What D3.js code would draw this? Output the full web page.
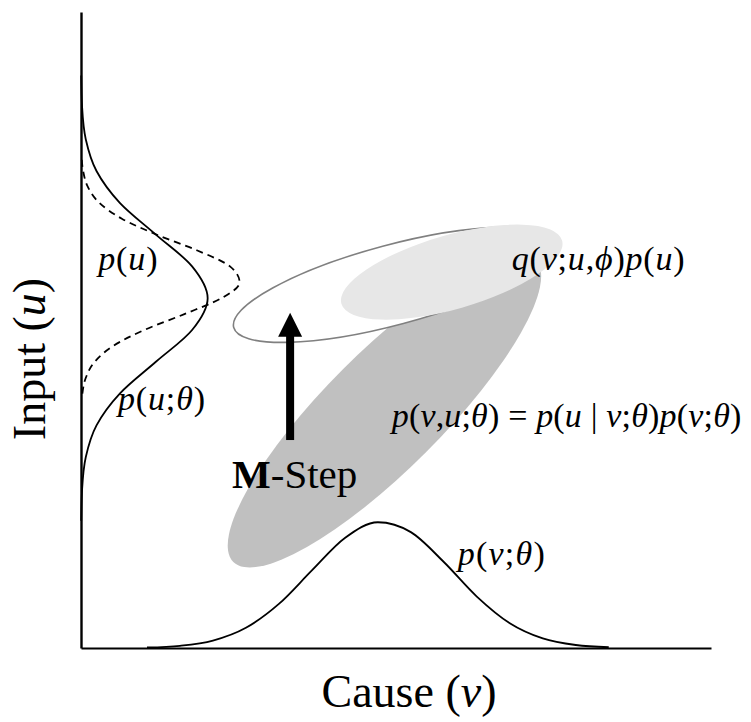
<!DOCTYPE html>
<html>
<head>
<meta charset="utf-8">
<script src="https://cdn.jsdelivr.net/npm/d3@7"></script>
<style>
  body { margin: 0; background: #fff; }
  svg { display: block; }
</style>
</head>
<body>
<div id="chart"></div>
<script>
// p(v;theta) : density along the cause axis (v, height in u units)
const pvV = [10, 15, 20, 25, 30, 35, 40, 45, 50, 55, 60, 65, 70, 75, 80];
const pvH = [0.08, 0.35, 1.17, 3.18, 6.93, 12.19, 17.29, 19.77, 18.22, 13.52, 8.09, 3.90, 1.51, 0.47, 0.12];

// p(u;theta) : model density along the input axis (u, height in v units)
const puThetaU = [20, 25, 30, 35, 40, 45, 50, 55, 60, 65, 70, 75, 80, 85, 90];
const puThetaH = [0.03, 0.17, 0.72, 2.35, 5.88, 11.35, 16.84, 19.2, 16.84, 11.35, 5.88, 2.35, 0.72, 0.17, 0.03];

// p(u) : true input density (dashed)
const puU = [40, 42.5, 45, 47.5, 50, 52.5, 55, 57.5, 60, 62.5, 65, 67.5, 70, 72.5, 75, 77.5];
const puH = [0.21, 0.73, 2.07, 4.88, 9.60, 15.67, 21.29, 24.04, 22.58, 17.64, 11.45, 6.19, 2.78, 1.04, 0.32, 0.08];

// ellipses: [centre v, centre u, semi-major, semi-minor (v units), angle deg]
const jointEllipse = [46.0, 37.3, 32.4, 8.9, 45];
const oldEllipse = [47.3, 57.1, 25.0, 6.06, 15];
const recogEllipse = [56.2, 59.1, 17.4, 5.6, 16];

// M-step arrow: v, u from, u to
const arrowPos = [31.7, 32.7, 52.7];

// labels: text, v, u, width (v units)
const mathLabels = [
  ["p(u)", 2.6, 59.4, 9.0],
  ["p(u;θ)", 5.6, 37.4, 13.2],
  ["q(v;u,ϕ)p(u)", 65.3, 59.4, 26.2],
  ["p(v,u;θ) = p(u | v;θ)p(v;θ)", 47.1, 34.7, 53.0],
  ["p(v;θ)", 57.1, 13.05, 13.2]
];

const W = 751, H = 722;
const x = d3.scaleLinear().domain([0, 95.5]).range([81, 711]);
const y = d3.scaleLinear().domain([0, 100]).range([648, 12]);
const pxPerV = x(1) - x(0);

const svg = d3.select("#chart").append("svg")
  .attr("width", W).attr("height", H)
  .style("font-family", "'Liberation Serif', 'Times New Roman', serif");

// ellipses
function drawEllipse(e, fill, stroke) {
  svg.append("ellipse")
    .attr("transform", `translate(${x(e[0])},${y(e[1])}) rotate(${-e[4]})`)
    .attr("rx", e[2] * pxPerV)
    .attr("ry", e[3] * pxPerV)
    .attr("fill", fill)
    .attr("stroke", stroke || "none")
    .attr("stroke-width", 1.6);
}
drawEllipse(jointEllipse, "#c0c0c0");
drawEllipse(oldEllipse, "#ffffff", "#808080");
drawEllipse(recogEllipse, "#e7e7e7");

// axes (domain lines only)
svg.append("g")
  .attr("transform", `translate(0,${y(0)})`)
  .call(d3.axisBottom(x).ticks(0).tickSizeOuter(0))
  .call(g => g.select(".domain").attr("stroke", "#000").attr("stroke-width", 2));
svg.append("g")
  .attr("transform", `translate(${x(0)},0)`)
  .call(d3.axisLeft(y).ticks(0).tickSizeOuter(0))
  .call(g => g.select(".domain").attr("stroke", "#000").attr("stroke-width", 2.4));

// density curves
const lineV = d3.line().x(d => x(d[0])).y(d => y(d[1])).curve(d3.curveMonotoneX);
const lineU = d3.line().x(d => x(d[1])).y(d => y(d[0])).curve(d3.curveMonotoneY);

svg.append("path")
  .attr("d", lineV(d3.zip(pvV, pvH)))
  .attr("fill", "none").attr("stroke", "#000").attr("stroke-width", 1.8);

svg.append("path")
  .attr("d", lineU(d3.zip(puThetaU, puThetaH)))
  .attr("fill", "none").attr("stroke", "#000").attr("stroke-width", 1.8);

svg.append("path")
  .attr("d", lineU(d3.zip(puU, puH)))
  .attr("fill", "none").attr("stroke", "#000").attr("stroke-width", 1.8)
  .attr("stroke-dasharray", "7,5");

// M-step arrow
const ax = x(arrowPos[0]), ay0 = y(arrowPos[1]), ay1 = y(arrowPos[2]);
svg.append("rect")
  .attr("x", ax - 4).attr("y", ay1 + 20)
  .attr("width", 8).attr("height", ay0 - ay1 - 20)
  .attr("fill", "#000");
svg.append("path")
  .attr("d", `M${ax},${ay1} L${ax + 12},${ay1 + 24} L${ax - 12},${ay1 + 24} Z`)
  .attr("fill", "#000");

const mstep = svg.append("text")
  .attr("x", x(22.9)).attr("y", y(25.2))
  .attr("font-size", 41);
mstep.append("tspan").attr("font-weight", "bold").text("M");
mstep.append("tspan").text("-Step");

// math labels: letters italic, punctuation upright
function mathText(label) {
  const t = svg.append("text")
    .attr("x", x(label[1])).attr("y", y(label[2]))
    .attr("font-size", 34)
    .attr("textLength", label[3] * pxPerV)
    .attr("lengthAdjust", "spacing");
  for (const ch of label[0]) {
    t.append("tspan")
      .attr("font-style", /[a-zθϕ]/.test(ch) ? "italic" : "normal")
      .text(ch === " " ? "\u00a0" : ch);
  }
}
mathLabels.forEach(mathText);

// axis titles
const xt = svg.append("text")
  .attr("x", 409).attr("y", 707)
  .attr("text-anchor", "middle")
  .attr("font-size", 46);
xt.append("tspan").text("Cause (");
xt.append("tspan").attr("font-style", "italic").text("v");
xt.append("tspan").text(")");

const yt = svg.append("text")
  .attr("transform", "translate(45,359) rotate(-90)")
  .attr("text-anchor", "middle")
  .attr("font-size", 46);
yt.append("tspan").text("Input (");
yt.append("tspan").attr("font-style", "italic").text("u");
yt.append("tspan").text(")");
</script>
</body>
</html>
